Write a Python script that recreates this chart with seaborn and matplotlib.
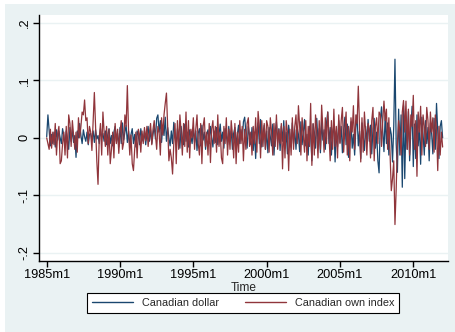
import matplotlib
matplotlib.use("Agg")
import matplotlib.pyplot as plt
from matplotlib.lines import Line2D
from matplotlib.patches import Rectangle
import numpy as np
import pandas as pd
import seaborn as sns

# Monthly changes, Canadian dollar exchange rate
dollar_1985_1989 = [
    0.002, 0.040, 0.012, -0.014, 0.006, -0.010, 0.010, -0.016, 0.014, -0.004, 0.012, 0.000,
    -0.010, 0.016, 0.004, -0.014, 0.012, -0.002, -0.020, 0.018, -0.006, 0.014, -0.008, 0.004,
    -0.034, 0.012, 0.000, 0.025, 0.004, -0.010, 0.014, 0.002, -0.006, 0.010, -0.012, 0.006,
    0.008, -0.004, 0.012, -0.008, 0.014, -0.002, 0.004, -0.010, 0.016, 0.000, 0.008, -0.006,
    0.012, -0.012, 0.006, 0.016, -0.010, 0.004, -0.014, 0.010, 0.020, -0.006, 0.008, -0.016,
]
dollar_1990_1994 = [
    0.018, -0.010, 0.026, -0.004, 0.010, 0.022, -0.008, 0.012, -0.014, 0.006, 0.016, -0.010,
    0.006, -0.016, 0.012, 0.004, -0.012, 0.016, 0.000, -0.006, 0.012, -0.012, 0.008, 0.020,
    -0.006, 0.014, -0.010, 0.006, 0.020, -0.002, 0.034, 0.040, 0.010, 0.030, -0.008, 0.022,
    0.004, 0.036, -0.006, 0.018, 0.000, -0.014, 0.012, -0.010, 0.027, 0.008, -0.012, 0.016,
    0.006, -0.018, 0.020, 0.000, -0.012, 0.024, -0.006, 0.010, -0.016, 0.014, 0.002, -0.010,
]
dollar_1995_1999 = [
    0.018, -0.008, 0.012, -0.022, 0.008, 0.016, -0.014, 0.022, -0.004, 0.010, -0.020, 0.006,
    0.014, -0.010, 0.020, 0.002, -0.016, 0.012, -0.008, 0.018, -0.012, 0.006, 0.024, -0.006,
    0.010, -0.018, 0.016, 0.004, -0.012, 0.020, -0.006, 0.012, -0.020, 0.008, 0.018, -0.014,
    0.006, 0.022, -0.010, 0.014, -0.004, 0.028, 0.036, 0.010, -0.018, 0.020, 0.004, -0.012,
    0.018, -0.022, 0.010, -0.036, 0.014, 0.026, -0.010, 0.032, -0.016, 0.008, 0.022, -0.020,
]
dollar_2000_2004 = [
    0.012, -0.026, 0.018, 0.002, -0.014, 0.024, -0.030, 0.010, 0.028, -0.008, 0.016, -0.022,
    0.020, -0.006, 0.030, -0.018, 0.010, -0.028, 0.022, 0.004, -0.016, 0.026, -0.010, 0.014,
    -0.020, 0.018, 0.006, -0.024, 0.028, -0.012, 0.010, 0.032, -0.014, 0.006, -0.030, 0.020,
    0.004, -0.040, 0.024, 0.010, -0.018, 0.034, -0.008, 0.016, -0.026, 0.030, -0.004, 0.014,
    -0.020, 0.026, 0.045, -0.010, 0.018, -0.030, 0.008, 0.022, -0.042, 0.012, -0.016, 0.030,
]
dollar_2005_2009 = [
    -0.008, 0.020, -0.026, 0.014, 0.036, -0.012, 0.024, -0.034, 0.010, 0.028, -0.018, 0.006,
    -0.030, 0.018, 0.040, -0.014, 0.012, -0.036, 0.026, 0.004, -0.022, 0.020, -0.010, 0.032,
    -0.006, 0.022, -0.028, 0.016, 0.034, -0.018, 0.010, -0.040, -0.061, 0.030, 0.054, 0.012,
    -0.024, 0.040, -0.010, 0.026, -0.030, 0.018, 0.006, -0.042, 0.020, 0.137, -0.010, -0.060,
    0.050, -0.030, 0.040, -0.086, 0.056, -0.071, 0.030, -0.020, 0.046, -0.040, 0.014, 0.055,
]
dollar_2010_2012 = [
    -0.050, 0.024, -0.036, 0.040, -0.014, 0.020, -0.046, 0.036, 0.006, -0.030, 0.030, -0.010,
    0.018, -0.040, 0.026, 0.008, -0.028, 0.034, -0.020, 0.060, 0.010, -0.036, 0.020, 0.030,
    0.000,
]

# Monthly changes, Canadian own index
own_1985_1989 = [
    0.000, -0.010, -0.020, 0.015, -0.018, 0.010, -0.012, 0.025, -0.030, 0.008, 0.020, -0.045,
    -0.040, -0.010, 0.010, -0.030, 0.020, -0.035, 0.040, 0.025, -0.015, 0.030, 0.005, -0.020,
    0.010, -0.025, 0.035, 0.000, 0.020, 0.045, 0.040, 0.066, 0.030, 0.035, -0.010, 0.020,
    0.010, -0.022, 0.030, 0.079, 0.020, -0.040, -0.081, 0.000, 0.025, -0.030, 0.045, 0.010,
    -0.015, 0.020, -0.030, 0.015, -0.045, -0.020, 0.010, -0.035, 0.025, -0.010, 0.015, -0.027,
]
own_1990_1994 = [
    0.010, 0.030, -0.020, -0.008, 0.040, 0.020, 0.091, 0.010, -0.030, 0.005, -0.045, -0.057,
    -0.020, 0.010, -0.035, 0.015, 0.005, -0.025, 0.012, -0.010, 0.018, -0.005, 0.020, -0.015,
    0.008, 0.025, -0.012, 0.015, 0.030, 0.005, -0.020, 0.020, 0.010, -0.030, 0.035, 0.005,
    0.040, 0.060, 0.078, 0.020, -0.040, -0.020, -0.035, -0.063, -0.010, 0.025, -0.045, 0.030,
    -0.020, 0.040, 0.010, -0.030, 0.025, -0.015, 0.045, -0.025, 0.030, -0.035, 0.015, 0.000,
]
own_1995_1999 = [
    0.035, -0.020, 0.015, 0.040, -0.010, -0.030, 0.025, -0.045, 0.020, 0.035, -0.015, 0.010,
    -0.030, 0.025, -0.043, 0.015, 0.030, -0.010, 0.020, -0.025, 0.040, -0.015, 0.010, -0.035,
    -0.045, 0.020, -0.010, 0.035, -0.030, 0.015, -0.020, 0.030, 0.005, -0.035, 0.025, -0.045,
    0.010, -0.025, 0.030, -0.010, 0.020, -0.040, 0.015, -0.020, 0.025, 0.035, -0.015, 0.010,
    -0.030, 0.020, -0.010, 0.035, -0.025, 0.046, 0.020, -0.035, 0.030, -0.015, 0.025, -0.020,
]
own_2000_2004 = [
    0.030, 0.020, -0.025, 0.035, 0.010, -0.030, 0.025, -0.015, 0.040, -0.020, 0.015, -0.010,
    0.025, -0.054, 0.020, -0.035, 0.030, 0.010, -0.057, 0.015, -0.030, 0.035, -0.020, 0.020,
    0.040, -0.010, 0.056, 0.020, -0.030, 0.035, 0.005, -0.025, 0.030, -0.040, 0.020, -0.015,
    0.060, -0.048, 0.025, -0.030, 0.040, 0.010, -0.035, 0.030, -0.020, 0.057, 0.015, -0.025,
    0.035, -0.010, 0.045, 0.005, -0.040, 0.030, -0.020, 0.050, -0.015, 0.020, -0.035, 0.040,
]
own_2005_2009 = [
    -0.010, 0.030, 0.053, -0.025, 0.015, 0.045, -0.030, 0.020, -0.040, 0.035, 0.010, 0.056,
    -0.020, 0.040, 0.025, 0.090, 0.020, -0.042, 0.035, -0.025, 0.045, 0.010, -0.030, 0.025,
    0.015, -0.035, 0.030, 0.053, -0.040, 0.020, 0.035, -0.010, 0.045, 0.040, -0.015, 0.030,
    0.064, 0.030, 0.050, -0.020, 0.035, -0.030, -0.092, -0.071, -0.040, -0.151, -0.089, -0.010,
    0.030, 0.010, -0.030, 0.045, 0.065, 0.010, 0.064, -0.020, 0.050, -0.030, 0.040, 0.020,
]
own_2010_2012 = [
    0.074, -0.020, 0.030, -0.067, 0.045, 0.010, 0.055, -0.030, 0.040, 0.020, -0.015, 0.053,
    0.030, -0.020, 0.045, 0.010, 0.035, -0.025, 0.040, 0.015, -0.057, 0.020, -0.030, 0.010,
    -0.016,
]

series_names = ["Canadian dollar", "Canadian own index"]
x_tick_labels = ["1985m1", "1990m1", "1995m1", "2000m1", "2005m1", "2010m1"]
y_tick_values = [-0.2, -0.1, 0.0, 0.1, 0.2]
y_tick_labels = ["-.2", "-.1", "0", ".1", ".2"]

dollar = (dollar_1985_1989 + dollar_1990_1994 + dollar_1995_1999
          + dollar_2000_2004 + dollar_2005_2009 + dollar_2010_2012)
own = (own_1985_1989 + own_1990_1994 + own_1995_1999
       + own_2000_2004 + own_2005_2009 + own_2010_2012)

n = len(dollar)
months = np.arange(n)  # months since 1985m1
df = pd.DataFrame({
    "month": np.concatenate([months, months]),
    "value": dollar + own,
    "series": [series_names[0]] * n + [series_names[1]] * len(own),
})

BG = "#eaf2f3"
BLUE = "#1a476f"
RED = "#90353b"

sns.set_theme(style="white")
plt.rcParams["font.family"] = ["Liberation Sans", "DejaVu Sans"]

W, H = 455, 332
fig = plt.figure(figsize=(W / 100, H / 100), dpi=100, facecolor="white")
fig.patches.append(Rectangle((5 / W, 0), 1 - 5 / W, 1 - 4 / H,
                             transform=fig.transFigure, facecolor=BG,
                             edgecolor="none", zorder=-10))

left, right, top, bottom = 39, 448, 15, 260.7
ax = fig.add_axes([left / W, 1 - bottom / H, (right - left) / W, (bottom - top) / H])
ax.set_facecolor("white")

sns.lineplot(data=df, x="month", y="value", hue="series",
             palette=[BLUE, RED], linewidth=0.9, estimator=None,
             legend=False, ax=ax)

ax.set_xlim(-6.3, 328.4)
ax.set_ylim(-0.214, 0.214)

x_tick_pos = [(int(lbl[:4]) - 1985) * 12 for lbl in x_tick_labels]
ax.set_xticks(x_tick_pos)
ax.set_xticklabels(x_tick_labels, fontsize=9.2, color="black")
ax.set_yticks(y_tick_values)
ax.set_yticklabels(y_tick_labels, fontsize=9.2, color="black",
                   rotation=90, va="center")
ax.yaxis.grid(True, color=BG, linewidth=1.0)
ax.xaxis.grid(False)
ax.set_axisbelow(True)

for side in ["top", "right"]:
    ax.spines[side].set_visible(False)
for side in ["left", "bottom"]:
    ax.spines[side].set_color("black")
    ax.spines[side].set_linewidth(1.0)

ax.tick_params(axis="both", direction="out", length=4, width=1,
               color="black", pad=2, bottom=True, left=True)

ax.set_xlabel("Time", fontsize=8.6, labelpad=0.5)
ax.set_ylabel("")

handles = [Line2D([0], [0], color=BLUE, lw=1.0),
           Line2D([0], [0], color=RED, lw=1.0)]
leg = fig.legend(handles, series_names, loc="center",
                 bbox_to_anchor=(243 / W, 1 - 303 / H), ncol=2,
                 fontsize=7.8, frameon=True, fancybox=False,
                 edgecolor="black", facecolor="white", framealpha=1,
                 handlelength=3.8, columnspacing=2.4, borderpad=0.45,
                 handletextpad=0.8)
leg.get_frame().set_linewidth(0.8)

fig.savefig("out.png", dpi=100, facecolor=fig.get_facecolor())
